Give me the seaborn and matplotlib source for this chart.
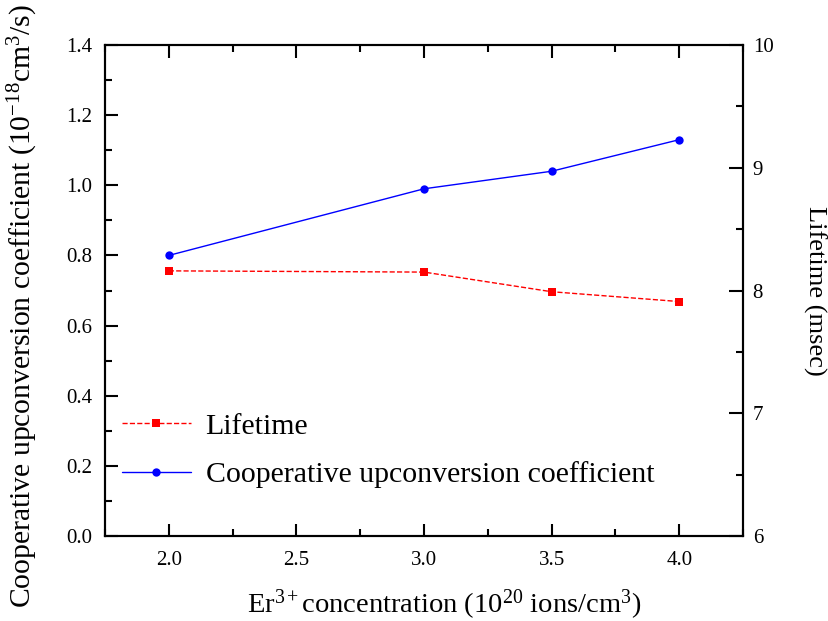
import matplotlib
matplotlib.use("Agg")
import matplotlib.pyplot as plt
import seaborn as sns
import pandas as pd
from matplotlib.ticker import MultipleLocator, FormatStrFormatter

# Data
concentration = [2.0, 3.0, 3.5, 4.0]
upconversion = [0.80, 0.99, 1.04, 1.13]
lifetime = [8.16, 8.15, 7.99, 7.91]

sns.set_theme(style="white")
plt.rcParams['font.family'] = ['Liberation Serif', 'DejaVu Serif']
plt.rcParams['mathtext.fontset'] = 'custom'
plt.rcParams['mathtext.rm'] = 'Liberation Serif'
plt.rcParams['mathtext.it'] = 'Liberation Serif:italic'
plt.rcParams['mathtext.default'] = 'regular'
plt.rcParams['text.color'] = 'black'
plt.rcParams['axes.labelcolor'] = 'black'

df = pd.DataFrame({"conc": concentration, "up": upconversion, "life": lifetime})

W, H = 829, 621
L, R, B, T = 105, 743, 536, 45
fig = plt.figure(figsize=(W/100, H/100), dpi=100)
ax = fig.add_axes([L/W, 1-B/H, (R-L)/W, (B-T)/H])
ax2 = ax.twinx()

sns.lineplot(data=df, x="conc", y="up", ax=ax, color="#0000ff", marker="o",
             markersize=6, markeredgewidth=0, linewidth=1.0,
             label="Cooperative upconversion coefficient", legend=False)
sns.lineplot(data=df, x="conc", y="life", ax=ax2, color="#ff0000", marker="s",
             markersize=5.5, markeredgewidth=0, linewidth=1.0, linestyle="--",
             label="Lifetime", legend=False)

ax.set_xlim(1.75, 4.25)
ax.set_ylim(0.0, 1.4)
ax2.set_ylim(6, 10)

ax.xaxis.set_major_locator(MultipleLocator(0.5))
ax.xaxis.set_minor_locator(MultipleLocator(0.25))
ax.yaxis.set_major_locator(MultipleLocator(0.2))
ax.yaxis.set_minor_locator(MultipleLocator(0.1))
ax2.yaxis.set_major_locator(MultipleLocator(1))
ax2.yaxis.set_minor_locator(MultipleLocator(0.5))
ax.xaxis.set_major_formatter(FormatStrFormatter('%.1f'))
ax.yaxis.set_major_formatter(FormatStrFormatter('%.1f'))

ax.tick_params(axis='x', which='both', direction='in', top=True, bottom=True,
               labelsize=15, colors='black', pad=11)
ax.tick_params(axis='y', which='both', direction='in', left=True, right=False,
               labelsize=15, colors='black', pad=9)
ax.tick_params(which='major', length=9, width=1.5)
ax.tick_params(which='minor', length=5, width=1.5)
ax2.tick_params(axis='y', which='both', direction='in', right=True, left=False,
                labelsize=15, colors='black', pad=7)
ax2.tick_params(which='major', length=10, width=1.5)
ax2.tick_params(which='minor', length=5, width=1.5)

for a in (ax, ax2):
    for s in a.spines.values():
        s.set_visible(True)
        s.set_color('black')
        s.set_linewidth(1.5)

ax.set_xlabel("Er$^{3+}$concentration (10$^{20}$ ions/cm$^{3}$)", fontsize=20.5)
ax.xaxis.set_label_coords((444-L)/(R-L), -(588-B)/(B-T))
ax.set_ylabel("Cooperative upconversion coefficient (10$^{-18}$cm$^{3}$/s)", fontsize=21.3)
ax.yaxis.set_label_coords(-(L-40)/(R-L), (B-306)/(B-T))
ax2.set_ylabel("Lifetime (msec)", fontsize=19, rotation=270, rotation_mode='anchor',
               va='bottom', ha='center')
ax2.yaxis.set_label_coords((803-L)/(R-L), 0.5)

h1, l1 = ax.get_legend_handles_labels()
h2, l2 = ax2.get_legend_handles_labels()
leg = ax2.legend(h2 + h1, l2 + l1, loc='upper left',
                 bbox_to_anchor=((122-L)/(R-L), (B-413)/(B-T)),
                 borderaxespad=0, borderpad=0,
                 frameon=False, fontsize=21.5, handlelength=2.3, labelspacing=0.72,
                 handletextpad=0.5)

fig.savefig("out.png", dpi=100)
